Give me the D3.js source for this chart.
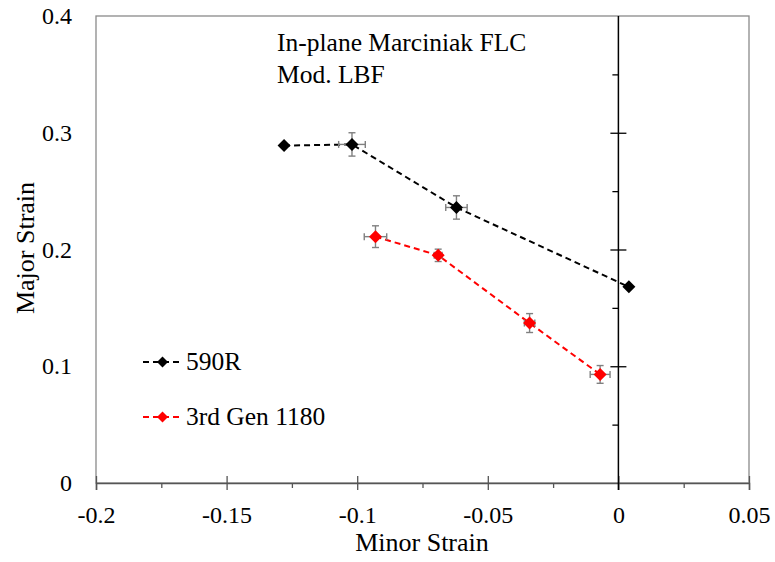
<!DOCTYPE html>
<html>
<head>
<meta charset="utf-8">
<script src="https://cdn.jsdelivr.net/npm/d3@7"></script>
<style>
  body { margin: 0; background: #fff; }
  svg, svg text { font-family: "Liberation Serif", "Times New Roman", serif !important; }
</style>
</head>
<body>
<svg id="chart"></svg>
<script>
// data
const minor590 = [-0.128, -0.102, -0.062, 0.004];
const major590 = [0.289, 0.290, 0.236, 0.168];
const minorErr590 = [0.0008, 0.0051, 0.0041, 0];
const majorErr590 = [0.0010, 0.0100, 0.0100, 0];

const minor1180 = [-0.093, -0.069, -0.034, -0.007];
const major1180 = [0.211, 0.195, 0.137, 0.093];
const minorErr1180 = [0.0043, 0.0015, 0.0020, 0.0038];
const majorErr1180 = [0.0093, 0.0053, 0.0081, 0.0076];

const xTicks = [-0.2, -0.15, -0.1, -0.05, 0, 0.05];
const xMinorTicks = [-0.175, -0.125, -0.075, -0.025, 0.025];
const yTicks = [0, 0.1, 0.2, 0.3, 0.4];
const yMinorTicks = [0.05, 0.15, 0.25, 0.35];

const seriesNames = ["590R", "3rd Gen 1180"];
const seriesColors = ["#000000", "#ff0000"];
const noteLines = ["In-plane Marciniak FLC", "Mod. LBF"];

class StrainChart {
    margin = { top: 16, right: 26, bottom: 79, left: 96 }

    constructor(svg, width = 775, height = 562) {
        this.svg = d3.select(svg);
        this.width = width - this.margin.left - this.margin.right;
        this.height = height - this.margin.top - this.margin.bottom;
        this.svg.attr("width", width).attr("height", height);
        this.g = this.svg.append("g")
            .attr("transform", `translate(${this.margin.left}, ${this.margin.top})`);
        this.xScale = d3.scaleLinear().domain([-0.2, 0.05]).range([0, this.width]);
        this.yScale = d3.scaleLinear().domain([0, 0.4]).range([this.height, 0]);
    }

    diamond(r) {
        return `M0,${-r}L${r},0L0,${r}L${-r},0Z`;
    }

    drawFrame() {
        const x = this.xScale, y = this.yScale, g = this.g;

        // plot border (grey)
        g.append("rect")
            .attr("x", 0).attr("y", 0)
            .attr("width", this.width).attr("height", this.height)
            .attr("fill", "none")
            .attr("stroke", "#8a8a8a")
            .attr("stroke-width", 1.3);

        // left axis labels only
        const yAxis = g.append("g")
            .call(d3.axisLeft(y).tickValues(yTicks).tickSize(0).tickPadding(24)
                .tickFormat(d => +d.toFixed(2)))
            .attr("font-family", null)
            .attr("font-size", 24);
        yAxis.select(".domain").remove();
        yAxis.selectAll("text").attr("fill", "#000");

        // bottom axis, major ticks cross the line
        const xAxis = g.append("g")
            .attr("transform", `translate(0, ${this.height})`)
            .call(d3.axisBottom(x).tickValues(xTicks).tickSize(7).tickPadding(16)
                .tickFormat(d => +d.toFixed(2)))
            .attr("font-family", null)
            .attr("font-size", 24);
        xAxis.select(".domain").attr("stroke", "#555").attr("stroke-width", 1.5);
        xAxis.selectAll(".tick line").attr("y1", -7).attr("stroke", "#555").attr("stroke-width", 1.3);
        xAxis.selectAll("text").attr("fill", "#000");

        const xMinor = g.append("g")
            .attr("transform", `translate(0, ${this.height})`)
            .call(d3.axisBottom(x).tickValues(xMinorTicks).tickSize(5).tickFormat(""));
        xMinor.select(".domain").remove();
        xMinor.selectAll(".tick line").attr("stroke", "#555").attr("stroke-width", 1.3);

        // vertical axis through minor strain = 0
        const zero = g.append("g").attr("transform", `translate(${x(0)}, 0)`);
        zero.append("line")
            .attr("x1", 0).attr("x2", 0)
            .attr("y1", 0).attr("y2", this.height + 7)
            .attr("stroke", "#000").attr("stroke-width", 1.5);
        const zMajor = zero.append("g")
            .call(d3.axisLeft(y).tickValues([0.1, 0.2, 0.3]).tickSize(8).tickFormat(""));
        zMajor.select(".domain").remove();
        zMajor.selectAll(".tick line").attr("x1", 8).attr("stroke", "#000").attr("stroke-width", 1.3);
        const zMinor = zero.append("g")
            .call(d3.axisLeft(y).tickValues(yMinorTicks).tickSize(6).tickFormat(""));
        zMinor.select(".domain").remove();
        zMinor.selectAll(".tick line").attr("stroke", "#000").attr("stroke-width", 1.3);

        // axis titles
        this.svg.append("text")
            .attr("x", 422)
            .attr("y", 551)
            .attr("text-anchor", "middle")
            .attr("font-size", "26px")
            .text("Minor Strain");
        this.svg.append("text")
            .attr("transform", "translate(34, 248) rotate(-90)")
            .attr("text-anchor", "middle")
            .attr("font-size", "26px")
            .text("Major Strain");

        // note
        this.svg.append("g").selectAll("text")
            .data(noteLines)
            .join("text")
            .attr("x", 277)
            .attr("y", (d, i) => 51 + i * 32)
            .attr("font-size", "25.5px")
            .text(d => d);
    }

    drawSeries(xs, ys, xErr, yErr, color) {
        const x = this.xScale, y = this.yScale;
        const data = xs.map((v, i) => ({ x: v, y: ys[i], ex: xErr[i], ey: yErr[i] }));
        const s = this.g.append("g");

        s.append("path")
            .datum(data)
            .attr("fill", "none")
            .attr("stroke", color)
            .attr("stroke-width", 2)
            .attr("stroke-dasharray", "6,4")
            .attr("d", d3.line().x(d => x(d.x)).y(d => y(d.y)));

        const cap = 3.5;
        const err = s.append("g").attr("stroke", "#808080").attr("stroke-width", 1.4);
        data.filter(d => d.ey > 0).forEach(d => {
            err.append("line").attr("x1", x(d.x)).attr("x2", x(d.x))
                .attr("y1", y(d.y - d.ey)).attr("y2", y(d.y + d.ey));
            err.append("line").attr("x1", x(d.x) - cap).attr("x2", x(d.x) + cap)
                .attr("y1", y(d.y - d.ey)).attr("y2", y(d.y - d.ey));
            err.append("line").attr("x1", x(d.x) - cap).attr("x2", x(d.x) + cap)
                .attr("y1", y(d.y + d.ey)).attr("y2", y(d.y + d.ey));
        });
        data.filter(d => d.ex > 0).forEach(d => {
            err.append("line").attr("y1", y(d.y)).attr("y2", y(d.y))
                .attr("x1", x(d.x - d.ex)).attr("x2", x(d.x + d.ex));
            err.append("line").attr("y1", y(d.y) - cap).attr("y2", y(d.y) + cap)
                .attr("x1", x(d.x - d.ex)).attr("x2", x(d.x - d.ex));
            err.append("line").attr("y1", y(d.y) - cap).attr("y2", y(d.y) + cap)
                .attr("x1", x(d.x + d.ex)).attr("x2", x(d.x + d.ex));
        });

        s.selectAll(".pt")
            .data(data)
            .join("path")
            .attr("class", "pt")
            .attr("transform", d => `translate(${x(d.x)}, ${y(d.y)})`)
            .attr("d", this.diamond(6.5))
            .attr("fill", color);
    }

    drawLegend() {
        const lg = this.svg.append("g").selectAll("g")
            .data(seriesNames)
            .join("g")
            .attr("transform", (d, i) => `translate(143, ${362 + i * 55})`);
        lg.append("line")
            .attr("x1", 0).attr("x2", 39)
            .attr("stroke", (d, i) => seriesColors[i])
            .attr("stroke-width", 2)
            .attr("stroke-dasharray", "6,4");
        lg.append("path")
            .attr("transform", "translate(19.5, 0)")
            .attr("d", this.diamond(5.5))
            .attr("fill", (d, i) => seriesColors[i]);
        lg.append("text")
            .attr("x", 43)
            .attr("y", 8)
            .attr("font-size", "25.5px")
            .text(d => d);
    }
}

const chart = new StrainChart("#chart");
chart.drawFrame();
chart.drawSeries(minor590, major590, minorErr590, majorErr590, seriesColors[0]);
chart.drawSeries(minor1180, major1180, minorErr1180, majorErr1180, seriesColors[1]);
chart.drawLegend();
</script>
</body>
</html>
